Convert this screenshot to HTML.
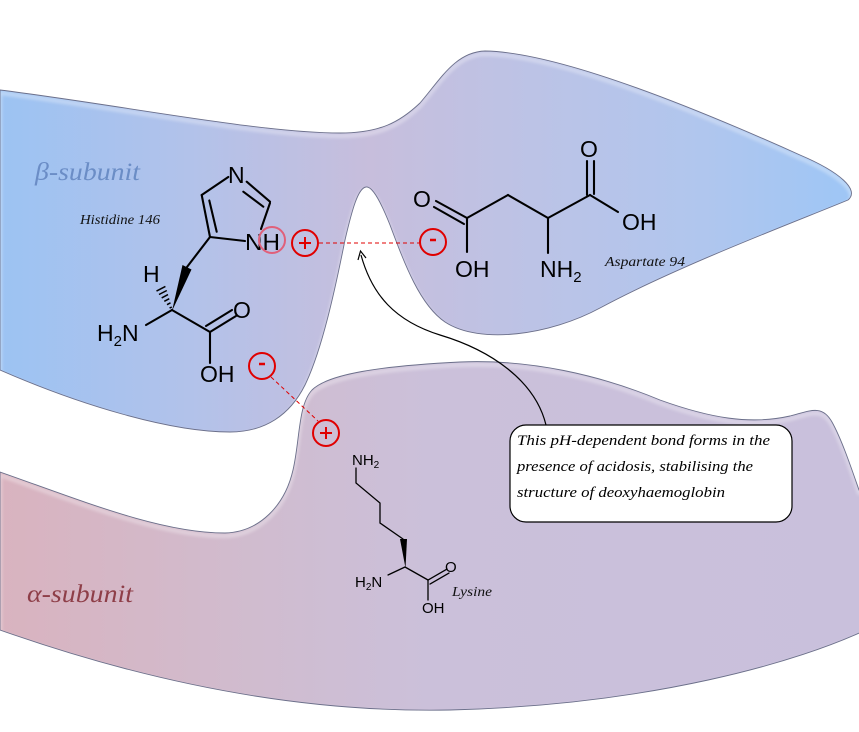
<!DOCTYPE html>
<html><head><meta charset="utf-8"><style>
html,body{margin:0;padding:0;background:#fff;}
svg{display:block;}
</style></head><body>
<svg width="859" height="732" viewBox="0 0 859 732" xmlns="http://www.w3.org/2000/svg">
<defs>
<linearGradient id="gb" gradientUnits="userSpaceOnUse" x1="0" y1="0" x2="859" y2="0">
<stop offset="0" stop-color="#9cc3f3"/>
<stop offset="0.22" stop-color="#b2c2ea"/>
<stop offset="0.43" stop-color="#c7bedc"/>
<stop offset="0.62" stop-color="#bcc3e6"/>
<stop offset="0.82" stop-color="#b0c6ee"/>
<stop offset="1" stop-color="#9dc6f6"/>
</linearGradient>
<linearGradient id="ga" gradientUnits="userSpaceOnUse" x1="0" y1="0" x2="859" y2="0">
<stop offset="0" stop-color="#d9b3bf"/>
<stop offset="0.3" stop-color="#d0bccf"/>
<stop offset="0.5" stop-color="#cbc0da"/>
<stop offset="1" stop-color="#c9c0dc"/>
</linearGradient>
<clipPath id="cb"><path d="M0,90 C120,105 260,133 340,133 C380,133 400,122 420,103 C440,80 455,52 485,51 C560,52 700,110 800,155 C840,172 860,190 848,200 C800,220 680,265 600,308 C550,335 480,345 445,322 C420,305 405,265 390,225 C380,200 372,186 366,187 C358,188 352,210 345,240 C335,290 322,350 305,385 C290,415 265,432 230,432 C170,432 80,405 0,370 Z"/></clipPath>
<clipPath id="ca"><path d="M0,472 C80,500 160,533 225,533 C260,532 285,505 293,470 C300,440 298,405 312,390 C328,374 380,366 460,362 C530,359 600,375 660,400 C710,418 750,425 790,416 C810,411 822,404 832,422 C842,440 852,470 859,490 L870,490 L870,628 C800,662 650,705 450,710 C300,713 150,683 0,630 Z"/></clipPath>
<filter id="bl" x="-10%" y="-10%" width="120%" height="120%"><feGaussianBlur stdDeviation="1.5"/></filter>
</defs>

<!-- beta subunit -->
<path d="M0,90 C120,105 260,133 340,133 C380,133 400,122 420,103 C440,80 455,52 485,51 C560,52 700,110 800,155 C840,172 860,190 848,200 C800,220 680,265 600,308 C550,335 480,345 445,322 C420,305 405,265 390,225 C380,200 372,186 366,187 C358,188 352,210 345,240 C335,290 322,350 305,385 C290,415 265,432 230,432 C170,432 80,405 0,370 Z" fill="url(#gb)"/>
<g clip-path="url(#cb)">
<path d="M0,90 C120,105 260,133 340,133 C380,133 400,122 420,103 C440,80 455,52 485,51 C560,52 700,110 800,155 C840,172 860,190 848,200 C800,220 680,265 600,308 C550,335 480,345 445,322 C420,305 405,265 390,225 C380,200 372,186 366,187 C358,188 352,210 345,240 C335,290 322,350 305,385 C290,415 265,432 230,432 C170,432 80,405 0,370 Z" fill="none" stroke="#fff" stroke-width="4" opacity="0.35" transform="translate(0,3)" filter="url(#bl)"/>
</g>
<path d="M0,90 C120,105 260,133 340,133 C380,133 400,122 420,103 C440,80 455,52 485,51 C560,52 700,110 800,155 C840,172 860,190 848,200 C800,220 680,265 600,308 C550,335 480,345 445,322 C420,305 405,265 390,225 C380,200 372,186 366,187 C358,188 352,210 345,240 C335,290 322,350 305,385 C290,415 265,432 230,432 C170,432 80,405 0,370 Z" fill="none" stroke="#6b6f8a" stroke-width="0.9"/>

<!-- alpha subunit -->
<path d="M0,472 C80,500 160,533 225,533 C260,532 285,505 293,470 C300,440 298,405 312,390 C328,374 380,366 460,362 C530,359 600,375 660,400 C710,418 750,425 790,416 C810,411 822,404 832,422 C842,440 852,470 859,490 L870,490 L870,628 C800,662 650,705 450,710 C300,713 150,683 0,630 Z" fill="url(#ga)"/>
<g clip-path="url(#ca)">
<path d="M0,472 C80,500 160,533 225,533 C260,532 285,505 293,470 C300,440 298,405 312,390 C328,374 380,366 460,362 C530,359 600,375 660,400 C710,418 750,425 790,416 C810,411 822,404 832,422 C842,440 852,470 859,490 L870,490 L870,628 C800,662 650,705 450,710 C300,713 150,683 0,630 Z" fill="none" stroke="#fff" stroke-width="4" opacity="0.35" transform="translate(0,3)" filter="url(#bl)"/>
</g>
<path d="M0,472 C80,500 160,533 225,533 C260,532 285,505 293,470 C300,440 298,405 312,390 C328,374 380,366 460,362 C530,359 600,375 660,400 C710,418 750,425 790,416 C810,411 822,404 832,422 C842,440 852,470 859,490 L870,490 L870,628 C800,662 650,705 450,710 C300,713 150,683 0,630 Z" fill="none" stroke="#6b6f8a" stroke-width="0.9"/>

<!-- subunit labels -->
<text x="35" y="180" font-family="Liberation Serif, serif" font-style="italic" font-size="25" fill="#6b8dc6" textLength="105" lengthAdjust="spacingAndGlyphs">β-subunit</text>
<text x="27" y="602" font-family="Liberation Serif, serif" font-style="italic" font-size="25" fill="#8e3e48" textLength="106" lengthAdjust="spacingAndGlyphs">α-subunit</text>

<!-- residue names -->
<g font-family="Liberation Serif, serif" font-style="italic" fill="#111">
<text x="80" y="224" font-size="13.5" textLength="80" lengthAdjust="spacingAndGlyphs">Histidine 146</text>
<text x="605" y="266" font-size="13.5" textLength="80" lengthAdjust="spacingAndGlyphs">Aspartate 94</text>
<text x="452" y="596" font-size="14" textLength="40" lengthAdjust="spacingAndGlyphs">Lysine</text>
</g>

<!-- Histidine -->
<g stroke="#000" stroke-width="2.1" fill="none" stroke-linecap="round">
<line x1="201.7" y1="195" x2="228.3" y2="177"/>
<line x1="246.7" y1="181.7" x2="270" y2="201.7"/>
<line x1="243.3" y1="191.7" x2="263.3" y2="206.7"/>
<line x1="270" y1="203" x2="261" y2="229"/>
<line x1="245" y1="241" x2="210" y2="237"/>
<line x1="210" y1="237" x2="201.7" y2="195"/>
<line x1="216.7" y1="231.7" x2="209.3" y2="200.5"/>
<line x1="210" y1="237" x2="187" y2="267"/>
<line x1="172" y1="310" x2="146" y2="325"/>
<line x1="172" y1="310" x2="210" y2="332"/>
<line x1="210" y1="332" x2="236" y2="316"/>
<line x1="206" y1="326" x2="232" y2="310"/>
<line x1="210" y1="332" x2="210" y2="363"/>
</g>
<polygon points="182.5,265 191.5,269.5 172,311" fill="#000"/>
<g stroke="#000" stroke-width="1.5">
<line x1="169.6" y1="308.1" x2="171.8" y2="307.0"/>
<line x1="167.0" y1="304.7" x2="170.5" y2="302.8"/>
<line x1="164.3" y1="301.3" x2="169.3" y2="298.7"/>
<line x1="161.7" y1="297.9" x2="168.0" y2="294.6"/>
<line x1="159.0" y1="294.5" x2="166.8" y2="290.5"/>
<line x1="156.5" y1="291.05" x2="165.4" y2="286.45"/>
</g>
<g font-family="Liberation Sans, Arial, sans-serif" font-size="23" fill="#000">
<text x="228" y="183">N</text>
<text x="245" y="250" textLength="35" lengthAdjust="spacingAndGlyphs">NH</text>
<text x="143" y="282">H</text>
<text x="97" y="341">H<tspan font-size="15" dy="5">2</tspan><tspan dy="-5">N</tspan></text>
<text x="233" y="318">O</text>
<text x="200" y="382">OH</text>
</g>

<!-- Aspartate -->
<g stroke="#000" stroke-width="2.1" fill="none" stroke-linecap="round">
<line x1="587" y1="161" x2="587" y2="195"/>
<line x1="594" y1="161" x2="594" y2="194"/>
<line x1="590" y1="195" x2="618" y2="212"/>
<line x1="590" y1="195" x2="548" y2="218"/>
<line x1="548" y1="218" x2="548" y2="253"/>
<line x1="548" y1="218" x2="508" y2="195"/>
<line x1="508" y1="195" x2="467" y2="218"/>
<line x1="467" y1="218" x2="436" y2="201"/>
<line x1="464" y1="224" x2="434" y2="207"/>
<line x1="467" y1="218" x2="467" y2="252"/>
</g>
<g font-family="Liberation Sans, Arial, sans-serif" font-size="23" fill="#000">
<text x="580" y="157">O</text>
<text x="622" y="230">OH</text>
<text x="540" y="277">NH<tspan font-size="15" dy="5">2</tspan></text>
<text x="413" y="207">O</text>
<text x="455" y="277">OH</text>
</g>

<!-- Lysine -->
<g stroke="#000" stroke-width="1.3" fill="none" stroke-linecap="round">
<polyline points="356,468 356,483 380,503 380,523 403,539"/>
<line x1="405" y1="567" x2="388" y2="575"/>
<line x1="405" y1="567" x2="428" y2="580"/>
<line x1="428" y1="580" x2="447" y2="569"/>
<line x1="430" y1="584" x2="449" y2="573"/>
<line x1="428" y1="580" x2="428" y2="600"/>
</g>
<polygon points="400,539 407,539 405.5,568" fill="#000"/>
<g font-family="Liberation Sans, Arial, sans-serif" font-size="15" fill="#000">
<text x="352" y="465">NH<tspan font-size="10" dy="3">2</tspan></text>
<text x="355" y="587">H<tspan font-size="10" dy="3">2</tspan><tspan dy="-3">N</tspan></text>
<text x="445" y="572">O</text>
<text x="422" y="613">OH</text>
</g>

<!-- interactions -->
<circle cx="272" cy="240" r="13" fill="none" stroke="#e0607a" stroke-width="2"/>
<g fill="none" stroke="#e00000" stroke-width="2">
<circle cx="305" cy="243" r="13"/>
<circle cx="433" cy="242" r="13"/>
<circle cx="262" cy="366" r="13"/>
<circle cx="326" cy="433" r="13"/>
<line x1="299" y1="243" x2="311" y2="243"/>
<line x1="305" y1="237" x2="305" y2="249"/>
<line x1="320" y1="433" x2="332" y2="433"/>
<line x1="326" y1="427" x2="326" y2="439"/>
<line x1="430" y1="240" x2="436" y2="240" stroke-width="2.5"/>
<line x1="259" y1="364" x2="265" y2="364" stroke-width="2.5"/>
</g>
<g stroke="#e00000" stroke-width="1" stroke-dasharray="4,3">
<line x1="319" y1="243" x2="420" y2="243"/>
<line x1="271" y1="377" x2="318" y2="421"/>
</g>

<!-- connector -->
<path d="M546,425 C535,380 490,350 440,335 C395,321 372,295 361,255" fill="none" stroke="#000" stroke-width="1.2"/>
<polyline points="366,258 360.5,251 358,260" fill="none" stroke="#000" stroke-width="1.2"/>

<!-- callout -->
<rect x="510" y="425" width="282" height="97" rx="16" ry="16" fill="#fff" stroke="#000" stroke-width="1.2"/>
<g font-family="Liberation Serif, serif" font-style="italic" font-size="15" fill="#000">
<text x="517" y="445" textLength="253" lengthAdjust="spacingAndGlyphs">This pH-dependent  bond forms in the</text>
<text x="517" y="471" textLength="236" lengthAdjust="spacingAndGlyphs">presence of acidosis, stabilising the</text>
<text x="517" y="497" textLength="208" lengthAdjust="spacingAndGlyphs">structure of deoxyhaemoglobin</text>
</g>
</svg>
</body></html>
